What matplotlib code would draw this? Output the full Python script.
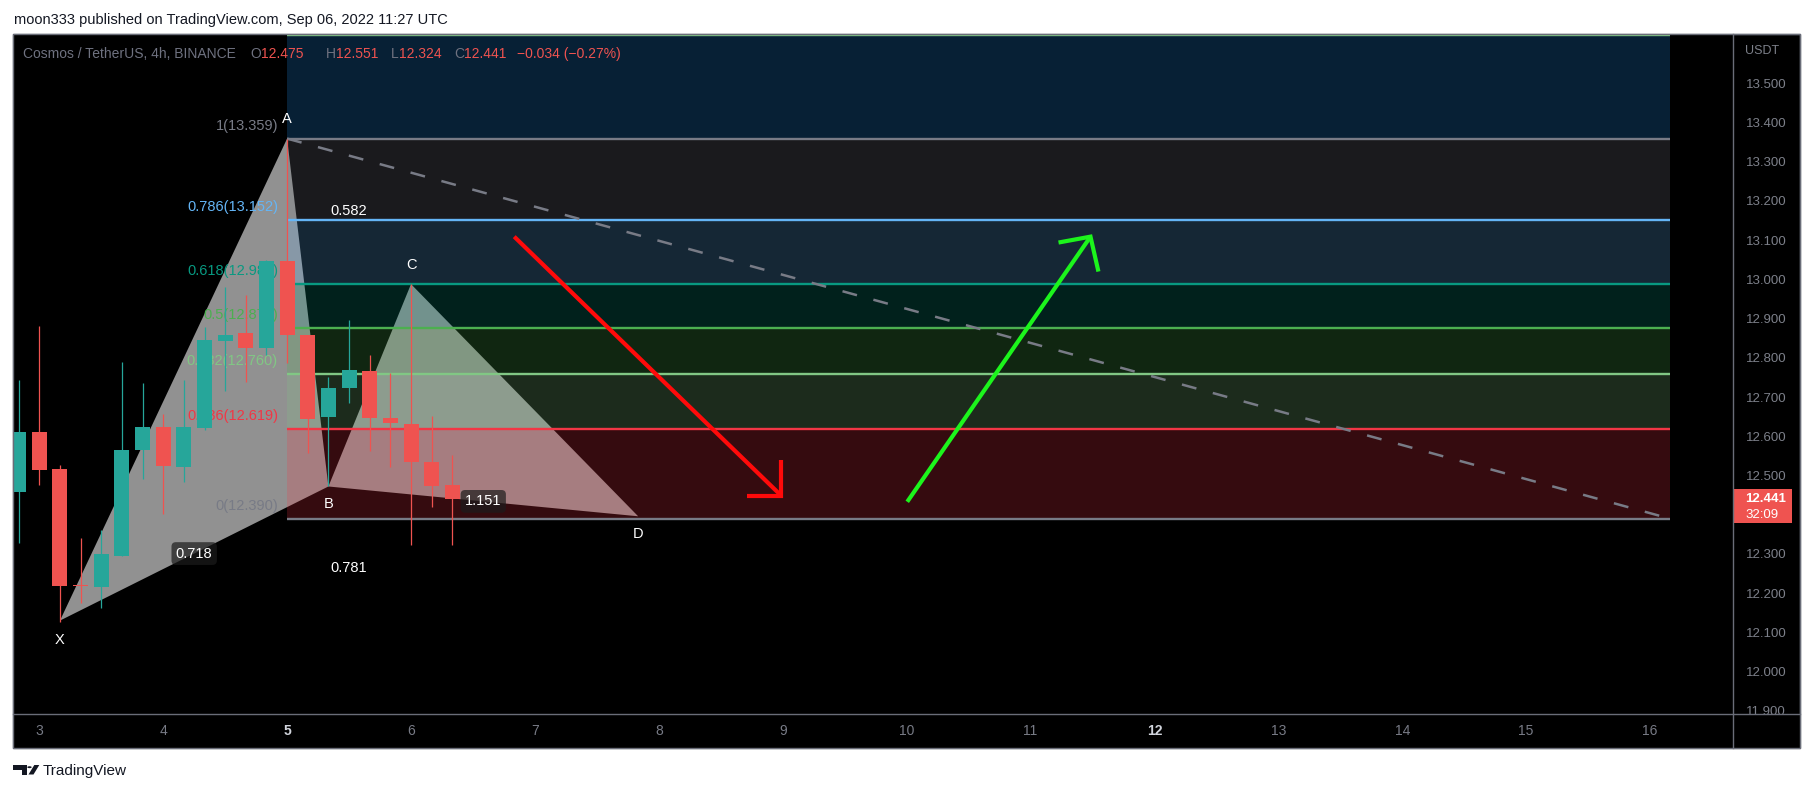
import matplotlib.pyplot as plt
from matplotlib.patches import Rectangle, Polygon, Circle
from matplotlib.lines import Line2D
from matplotlib.transforms import blended_transform_factory

plt.rcParams['font.family'] = ['Liberation Sans', 'DejaVu Sans']

W, H = 1813, 793

# 4h candles, hours from Sep 3 00:00
bar_hours = [-4, 0, 4, 8, 12, 16, 20, 24, 28, 32, 36, 40, 44, 48, 52, 56, 60, 64, 68, 72, 76, 80]
opens  = [12.458, 12.611, 12.516, 12.221, 12.215, 12.296, 12.565, 12.623, 12.522, 12.622, 12.844,
          12.864, 12.826, 13.046, 12.857, 12.650, 12.723, 12.767, 12.646, 12.631, 12.535, 12.475]
highs  = [12.744, 12.882, 12.526, 12.341, 12.360, 12.790, 12.736, 12.657, 12.744, 12.878, 12.980,
          12.961, 13.050, 13.359, 12.859, 12.752, 12.897, 12.807, 12.761, 12.988, 12.652, 12.551]
lows   = [12.327, 12.477, 12.126, 12.174, 12.162, 12.294, 12.491, 12.402, 12.483, 12.617, 12.716,
          12.739, 12.807, 12.786, 12.558, 12.472, 12.684, 12.563, 12.522, 12.322, 12.420, 12.324]
closes = [12.611, 12.514, 12.219, 12.219, 12.299, 12.565, 12.623, 12.524, 12.623, 12.846, 12.859,
          12.826, 13.046, 12.857, 12.644, 12.723, 12.769, 12.647, 12.633, 12.535, 12.473, 12.441]

# fib retracement A -> 0
fib_levels = [0, 0.236, 0.382, 0.5, 0.618, 0.786, 1, 1.272]
fib_prices = [12.390, 12.619, 12.760, 12.875, 12.989, 13.152, 13.359, 13.623]
fib_line_colors = ['#787b86', '#f23645', '#81c784', '#4caf50', '#089981', '#64b5f6', '#787b86', '#81c784']
fib_band_colors = ['#f23645', '#81c784', '#4caf50', '#089981', '#64b5f6', '#787b86', '#2196f3']
fib_start, fib_end = 5.0, 16.161

# XABCD pattern
pat_names = ['X', 'A', 'B', 'C', 'D']
pat_x = [3.1667, 5.0, 5.3333, 6.0, 7.8333]
pat_y = [12.130, 13.359, 12.472, 12.988, 12.396]
ratio_text = {'XB': '0.718', 'AC': '0.582', 'XD': '0.781', 'BD': '1.151'}

# arrows (start, tip, arm1, arm2)
red_arrow = [(6.833, 13.109), (8.990, 12.448), (8.990, 12.539), (8.715, 12.448)]
green_arrow = [(10.005, 12.433), (11.484, 13.109), (11.226, 13.094), (11.548, 13.020)]

# 12.400 sits under the last price tag, so it is not shown
price_ticks = [11.9, 12.0, 12.1, 12.2, 12.3, 12.5, 12.6, 12.7, 12.8,
               12.9, 13.0, 13.1, 13.2, 13.3, 13.4, 13.5]
day_ticks = [3, 4, 5, 6, 7, 8, 9, 10, 11, 12, 13, 14, 15, 16]
week_starts = [5, 12]

ohlc_legend = [('O', '12.475'), ('H', '12.551'), ('L', '12.324'), ('C', '12.441')]
ohlc_x = [250, 326, 391, 454]


def fx(px):
    return px / W


def fy(py):
    return 1 - py / H


fig = plt.figure(figsize=(W / 100, H / 100), dpi=100)
fig.patch.set_facecolor('white')

# chart frame
fig.add_artist(Rectangle((fx(12.5), fy(748.3)), (1799.5 - 12.5) / W, (748.3 - 34) / H,
                         facecolor='black', edgecolor='#6a6d78', lw=1, zorder=-5))

x_left, x_right = 2.7837, 16.672
ax = fig.add_axes([fx(12.5), fy(714), (1733.3 - 12.5) / W, (714 - 34) / H])
ax.set_facecolor('black')
ax.set_xlim(x_left, x_right)
ax.set_ylim(11.8919, 13.6257)
for s in ax.spines.values():
    s.set_visible(False)
ax.set_xticks([])
ax.yaxis.tick_right()
ax.set_yticks(price_ticks)
ax.set_yticklabels([f'{v:.3f}' for v in price_ticks])
ax.tick_params(axis='y', length=0, pad=8.9, labelsize=9.5, labelcolor='#7d808a')

# pattern triangles
ax.fill(pat_x[0:3], pat_y[0:3], color='#919191', lw=0, zorder=1)
ax.fill(pat_x[2:5], pat_y[2:5], color='#919191', lw=0, zorder=1)

# fib bands and lines
for i in range(len(fib_prices) - 1):
    ax.fill_between([fib_start, fib_end], fib_prices[i], fib_prices[i + 1],
                    color=fib_band_colors[i], alpha=0.22, lw=0, zorder=2)
for p, c in zip(fib_prices, fib_line_colors):
    ax.hlines(p, fib_start, fib_end, color=c, lw=1.7, zorder=3)
for lv, p, c in zip(fib_levels[:-1], fib_prices[:-1], fib_line_colors[:-1]):
    ax.text(fib_start - 0.074, p + 0.033, f'{lv:g}({p:.3f})', color=c, fontsize=10.5,
            ha='right', va='center', zorder=3.2)

# trend line from A
ax.plot([pat_x[1], fib_end], [pat_y[1], fib_prices[0]], color='#787b86', lw=1.8,
        dashes=(6, 6.8), zorder=3.5)

# candles
xs = [3 + h / 24 for h in bar_hours]
for x, o, hi, lo, c in zip(xs, opens, highs, lows, closes):
    col = '#26a69a' if c >= o else '#ef5350'
    ax.vlines(x, lo, hi, color=col, lw=0.9, zorder=4)
    ax.bar(x, max(abs(c - o), 0.003), width=0.121, bottom=min(o, c), color=col, lw=0, zorder=4.1)

# arrows
for arr, col in [(red_arrow, '#ff0a0a'), (green_arrow, '#1cf51c')]:
    s, t, a1, a2 = arr
    ax.plot([s[0], t[0]], [s[1], t[1]], color=col, lw=3, solid_capstyle='butt', zorder=5)
    ax.plot([a1[0], t[0], a2[0]], [a1[1], t[1], a2[1]], color=col, lw=3,
            solid_joinstyle='miter', solid_capstyle='butt', zorder=5)

# point labels
offsets = {'X': -14, 'A': 14, 'B': -12.5, 'C': 14, 'D': -12.5}
for n, x, y in zip(pat_names, pat_x, pat_y):
    ax.annotate(n, (x, y), xytext=(0, offsets[n]), textcoords='offset points',
                ha='center', va='center', color='white', fontsize=10.5, zorder=6)

pts = dict(zip(pat_names, zip(pat_x, pat_y)))
for key, txt in ratio_text.items():
    p1, p2 = pts[key[0]], pts[key[1]]
    mx, my = (p1[0] + p2[0]) / 2, (p1[1] + p2[1]) / 2
    box = None
    if key in ('XB', 'BD'):
        box = dict(boxstyle='round,pad=0.3,rounding_size=0.3', fc='#1c1c1c', ec='none', alpha=0.7)
    ax.text(mx, my, txt, ha='center', va='center', color='white', fontsize=10.5,
            bbox=box, zorder=6)

# last price tag
tr = blended_transform_factory(ax.transAxes, ax.transData)
ax.add_patch(Rectangle((1.0, 12.3782), 0.0343, 0.0874, transform=tr, clip_on=False,
                       facecolor='#ef5350', edgecolor='none', zorder=7))
ax.text(1.0068, 12.440, '12.441', transform=tr, color='white', fontsize=9.5,
        fontweight='bold', ha='left', va='center', clip_on=False, zorder=8)
ax.text(1.0068, 12.3998, '32:09', transform=tr, color='white', fontsize=9.5,
        ha='left', va='center', clip_on=False, zorder=8)

# time axis panel
ax_t = fig.add_axes([fx(12.5), fy(748.3), (1799.5 - 12.5) / W, (748.3 - 714) / H], zorder=3)
ax_t.set_facecolor('black')
ax_t.set_xlim(x_left, x_left + (1799.5 - 12.5) / 123.9)
ax_t.set_ylim(0, 1)
ax_t.set_xticks([])
ax_t.set_yticks([])
for s in ax_t.spines.values():
    s.set_visible(False)
for d in day_ticks:
    wk = d in week_starts
    ax_t.text(d, 0.5, str(d), ha='center', va='center', fontsize=10,
              color='#d1d4dc' if wk else '#787b86', fontweight='bold' if wk else 'normal')

# frame separators
fig.add_artist(Line2D([fx(1733.3), fx(1733.3)], [fy(34), fy(748.3)], color='#6a6d78', lw=1, zorder=10))
fig.add_artist(Line2D([fx(12.5), fx(1799.5)], [fy(714), fy(714)], color='#6a6d78', lw=1, zorder=10))
fig.add_artist(Rectangle((fx(12.5), fy(748.3)), (1799.5 - 12.5) / W, (748.3 - 34) / H,
                         facecolor='none', edgecolor='#6a6d78', lw=1, zorder=10))
fig.text(fx(1745), fy(51), 'USDT', color='#7d808a', fontsize=9, va='center', zorder=11)

# legend row
fig.text(fx(23), fy(54), 'Cosmos / TetherUS, 4h, BINANCE', color='#6f7280', fontsize=10, va='center', zorder=11)
for xp, (letter, val) in zip(ohlc_x, ohlc_legend):
    t = fig.text(fx(xp), fy(54), letter, color='#6f7280', fontsize=10, va='center', zorder=11)
    fig.add_artist(plt.Annotation(val, xy=(1, 0.5), xycoords=t, xytext=(0.3, 0),
                                  textcoords='offset points', color='#ef5350', fontsize=10,
                                  va='center', ha='left', zorder=11))
fig.text(fx(517), fy(54), '\u22120.034 (\u22120.27%)', color='#ef5350', fontsize=10, va='center', zorder=11)

# header and footer
fig.text(fx(14), fy(20), 'moon333 published on TradingView.com, Sep 06, 2022 11:27 UTC',
         color='#131722', fontsize=10.5, va='center')
fig.add_artist(Polygon([(fx(13.3), fy(765)), (fx(27), fy(765)), (fx(27), fy(774.5)),
                        (fx(21.5), fy(774.5)), (fx(21.5), fy(769.5)), (fx(13.3), fy(769.5))],
                       closed=True, facecolor='#131722', edgecolor='none'))
fig.add_artist(Circle((fx(29.5), fy(767.2)), 2.2 / W, facecolor='#131722', edgecolor='none'))
fig.add_artist(Polygon([(fx(28.5), fy(774.5)), (fx(33.5), fy(774.5)), (fx(39.3), fy(765)),
                        (fx(34.3), fy(765))], closed=True, facecolor='#131722', edgecolor='none'))
fig.text(fx(42.5), fy(770.5), 'TradingView', color='#131722', fontsize=11, va='center')

fig.savefig('out.png', dpi=100, facecolor='white')
